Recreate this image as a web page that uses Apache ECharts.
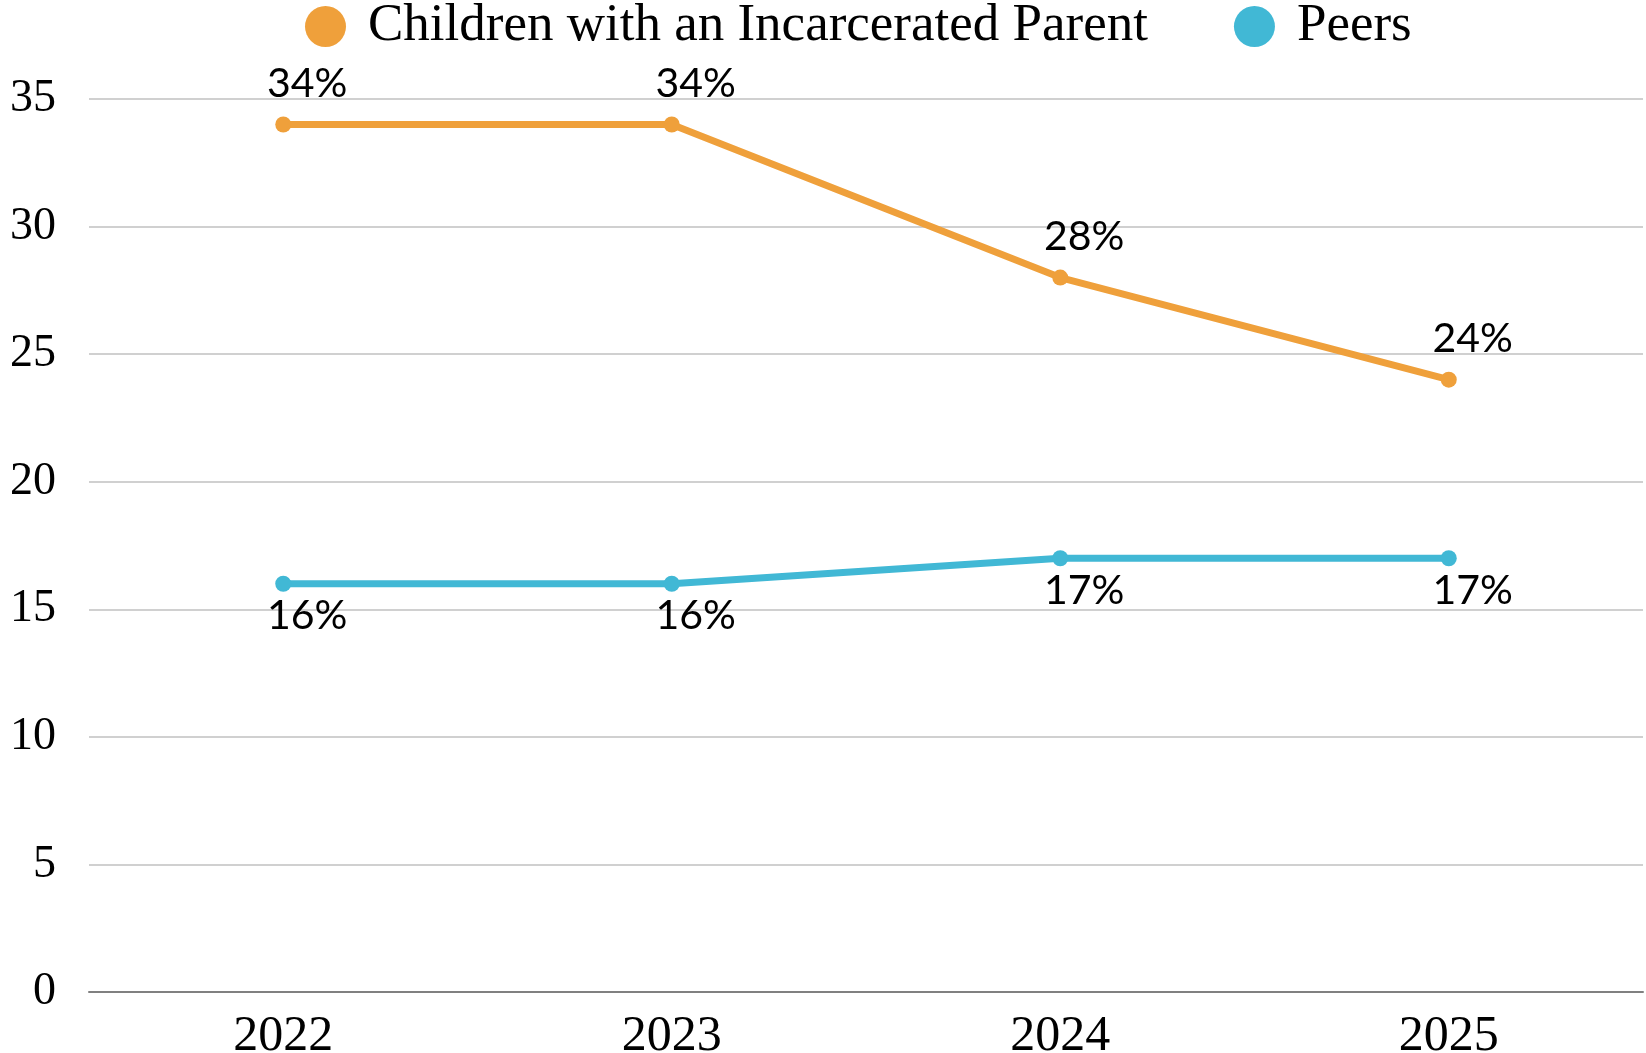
<!DOCTYPE html>
<html>
<head>
<meta charset="utf-8">
<script src="https://cdn.jsdelivr.net/npm/echarts@6/dist/echarts.min.js"></script>
<style>
  html, body { margin: 0; padding: 0; background: #fff; }
  #chart { width: 1646px; height: 1053px; }
</style>
</head>
<body>
<div id="chart"></div>
<script>
  // data
  var years = ['2022', '2023', '2024', '2025'];
  var incarcerated = [34, 34, 28, 24];
  var peers = [16, 16, 17, 17];
  var seriesNames = ['Children with an Incarcerated Parent', 'Peers'];

  var serif = 'Liberation Serif';
  var sans = 'Lato';

  var myChart = echarts.init(document.getElementById('chart'));

  var option = {
    animation: false,
    legend: {
      data: seriesNames,
      top: -5,
      left: 300,
      icon: 'circle',
      itemWidth: 41,
      itemHeight: 41,
      itemGap: 86,
      textStyle: {
        fontFamily: serif,
        fontSize: 53,
        color: '#000',
        padding: [0, 0, 0, 17]
      }
    },
    // keep the plot where it is even though the year labels run near the edge
    grid: { left: 89, right: 3, top: 99, bottom: 61, outerBoundsMode: 'none' },
    xAxis: {
      type: 'category',
      data: years,
      axisTick: { show: false },
      axisLine: { lineStyle: { color: '#808080', width: 2 } },
      axisLabel: { fontFamily: serif, fontSize: 50, color: '#000', margin: 20 }
    },
    yAxis: {
      type: 'value',
      min: 0,
      max: 35,
      interval: 5,
      axisLabel: { fontFamily: serif, fontSize: 46, color: '#000', margin: 33 },
      splitLine: { lineStyle: { color: '#d0d0d0', width: 2 } }
    },
    series: [
      {
        name: seriesNames[0],
        type: 'line',
        data: incarcerated,
        color: '#EFA03B',
        symbol: 'circle',
        symbolSize: 16,
        lineStyle: { width: 7 },
        label: {
          show: true,
          position: 'top',
          distance: 12,
          offset: [24, 0],
          formatter: '{c}%',
          fontFamily: sans,
          fontSize: 41,
          color: '#000'
        }
      },
      {
        name: seriesNames[1],
        type: 'line',
        data: peers,
        color: '#41B8D5',
        symbol: 'circle',
        symbolSize: 16,
        lineStyle: { width: 7 },
        label: {
          show: true,
          position: 'bottom',
          distance: 4,
          offset: [24, 0],
          formatter: '{c}%',
          fontFamily: sans,
          fontSize: 41,
          color: '#000'
        }
      }
    ]
  };

  myChart.setOption(option);
</script>
</body>
</html>
